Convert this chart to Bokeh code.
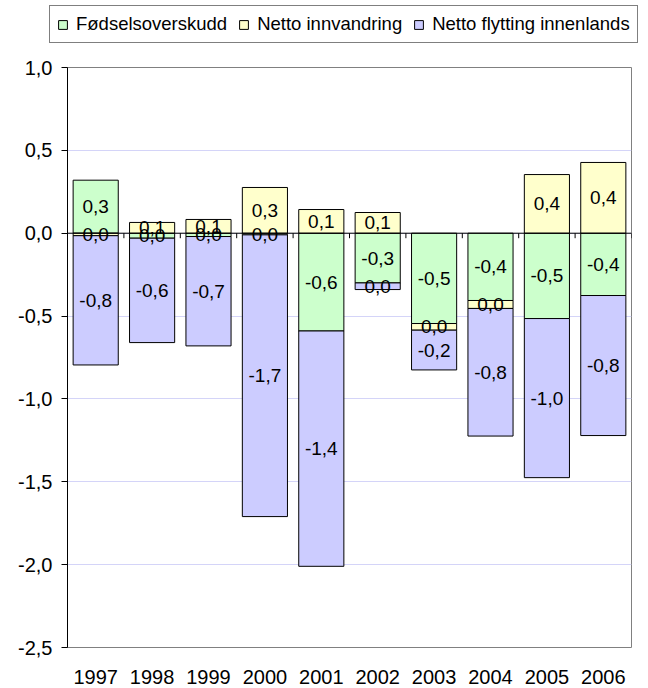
from bokeh.plotting import figure
from bokeh.layouts import column
from bokeh.models import (ColumnDataSource, FactorRange, Range1d, Span, Legend, LegendItem,
                          CustomJSTickFormatter, FixedTicker)
from bokeh.core.properties import value
from bokeh.embed import file_html
from bokeh.resources import INLINE

years = ["1997", "1998", "1999", "2000", "2001", "2002", "2003", "2004", "2005", "2006"]
series_names = ["Fødselsoverskudd", "Netto innvandring", "Netto flytting innenlands"]
fodsel = [0.32, -0.03, -0.02, -0.01, -0.59, -0.30, -0.545, -0.406, -0.515, -0.376]
innvandring = [-0.015, 0.065, 0.083, 0.276, 0.143, 0.125, -0.04, -0.048, 0.354, 0.427]
flytting = [-0.78, -0.63, -0.66, -1.70, -1.42, -0.04, -0.24, -0.77, -0.96, -0.845]
y_ticks = [1.0, 0.5, 0.0, -0.5, -1.0, -1.5, -2.0, -2.5]

colors = ["#CCFFCC", "#FFFFCC", "#CCCCFF"]
FONT = "Liberation Sans"
FS_AX = "20px"
FS_LBL = "19px"
FS_LEG = "18.5px"

W = 648
LEG_H = 57
H = 688 - LEG_H
left, right, top, bottom = 67, 17, 10, 41
frame_h = H - top - bottom

p = figure(width=W, height=H, x_range=FactorRange(*years), y_range=Range1d(-2.5, 1.0),
           output_backend="svg", toolbar_location=None, title=None,
           min_border_left=left, min_border_right=right, min_border_top=top,
           min_border_bottom=bottom)
p.x_range.range_padding = 0
p.outline_line_color = "#808080"
p.outline_line_width = 1
p.background_fill_color = "white"
p.border_fill_color = "white"

# stacking: positive values stack upward, negative downward, in series order
pos_base = [0.0] * len(years)
neg_base = [0.0] * len(years)
label_x, label_y, label_t = [], [], []
sources = []
for vals, col in zip([fodsel, innvandring, flytting], colors):
    tops, bots = [], []
    for i, v in enumerate(vals):
        if v >= 0:
            b = pos_base[i]; t = b + v; pos_base[i] = t
        else:
            t = neg_base[i]; b = t + v; neg_base[i] = b
        tops.append(t); bots.append(b)
        label_x.append(years[i]); label_y.append((t + b) / 2)
        r = round(v, 1)
        s = "0,0" if abs(r) < 0.05 else f"{r:.1f}".replace(".", ",")
        label_t.append(s)
    src = ColumnDataSource(dict(x=years, top=tops, bottom=bots))
    sources.append(src)
    p.vbar(x="x", top="top", bottom="bottom", width=0.8, source=src,
           fill_color=col, line_color="black", line_width=1)

p.text(x=label_x, y=label_y, text=label_t, text_align="center", text_baseline="middle",
       text_font=value(FONT), text_font_size=FS_LBL, text_color="black")

# zero line (category axis crossing)
p.add_layout(Span(location=0, dimension="width", line_color="black", line_width=1))
# category tick marks on zero line
tick_len = 5 * (1.0 - (-2.5)) / frame_h
p.segment(x0=[(y, 0.5) for y in years], x1=[(y, 0.5) for y in years],
          y0=[0] * len(years), y1=[-tick_len] * len(years), line_color="black", line_width=1)

# axes
p.xgrid.grid_line_color = None
p.ygrid.grid_line_color = "#D4D4F8"
p.ygrid.ticker = FixedTicker(ticks=y_ticks)
p.yaxis.ticker = FixedTicker(ticks=y_ticks)
p.yaxis.formatter = CustomJSTickFormatter(code="return tick.toFixed(1).replace('.', ',');")
p.yaxis.axis_line_color = "black"
p.yaxis.major_tick_line_color = "black"
p.yaxis.major_tick_in = 0
p.yaxis.major_tick_out = 6
p.yaxis.minor_tick_line_color = None
p.yaxis.major_label_standoff = 9
p.yaxis.major_label_text_font = FONT
p.yaxis.major_label_text_font_size = FS_AX
p.yaxis.major_label_text_color = "black"

p.xaxis.axis_line_color = None
p.xaxis.major_tick_line_color = None
p.xaxis.minor_tick_line_color = None
p.xaxis.major_label_standoff = 16
p.xaxis.major_label_text_font = FONT
p.xaxis.major_label_text_font_size = FS_AX
p.xaxis.major_label_text_color = "black"

# legend strip above the chart (shares the bar sources; its y view lies outside the data)
lf = figure(width=W, height=LEG_H, x_range=FactorRange(*years), y_range=Range1d(10, 11),
            output_backend="svg", toolbar_location=None, title=None,
            x_axis_type=None, y_axis_type=None,
            min_border_left=0, min_border_right=0, min_border_top=0, min_border_bottom=0)
lf.outline_line_color = None
lf.xgrid.grid_line_color = None
lf.ygrid.grid_line_color = None
leg_renderers = []
for src, col in zip(sources, colors):
    leg_renderers.append(lf.vbar(x="x", top="top", bottom="bottom", width=0.8, source=src,
                                 fill_color=col, line_color="black", line_width=1))
legend = Legend(items=[LegendItem(label=n, renderers=[r]) for n, r in zip(series_names, leg_renderers)],
                orientation="horizontal", location=(49, 14),
                glyph_width=11, glyph_height=11, label_standoff=8, spacing=11,
                padding=7, margin=0,
                label_text_font=FONT, label_text_font_size=FS_LEG, label_text_color="black",
                border_line_color="black", border_line_width=1,
                background_fill_color="white", background_fill_alpha=1)
lf.add_layout(legend)

for fig in (lf, p):
    if "frame_align" in fig.properties():
        fig.frame_align = False

layout = column(lf, p, spacing=0)
open("out.html", "w").write(file_html(layout, INLINE))
